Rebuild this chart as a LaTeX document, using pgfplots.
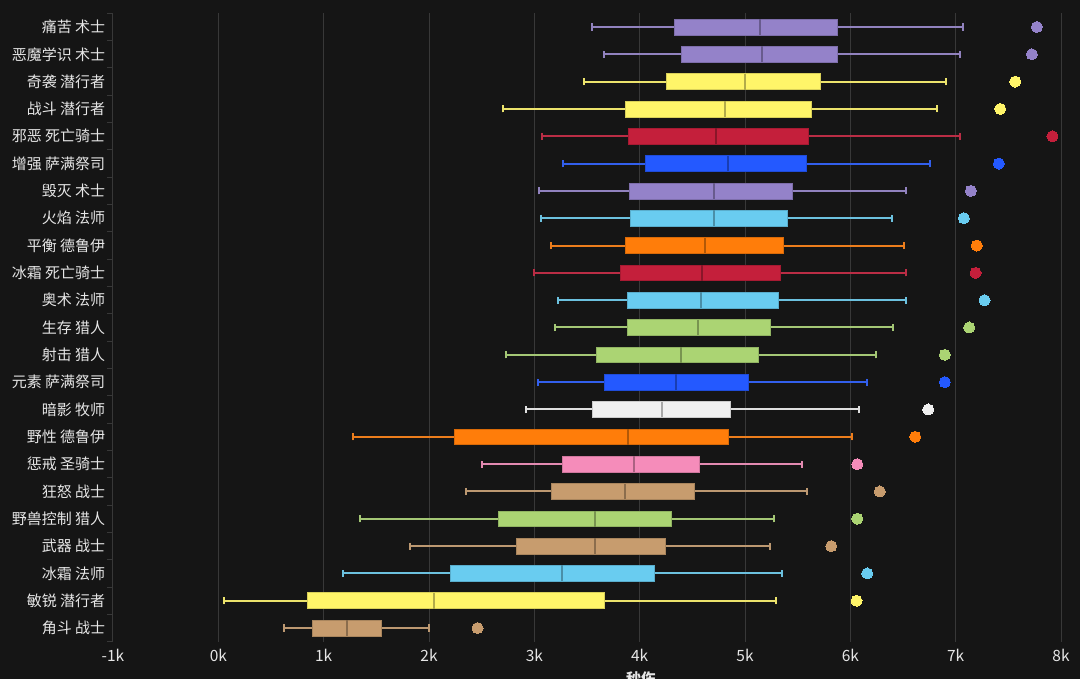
\documentclass[border=0pt]{standalone}
\usepackage{pgfplots}
\pgfplotsset{compat=1.18}
\usepgfplotslibrary{statistics}
\usepackage{fontspec}
\setmainfont{Noto Sans CJK SC}

\definecolor{bg}{HTML}{151515}
\definecolor{gridc}{HTML}{383838}
\definecolor{txt}{HTML}{E6E6E6}
\definecolor{wlk}{HTML}{9482C9}
\definecolor{rog}{HTML}{FFF569}
\definecolor{dk}{HTML}{C41F3B}
\definecolor{sha}{HTML}{2459FF}
\definecolor{mag}{HTML}{69CCF0}
\definecolor{dru}{HTML}{FF7D0A}
\definecolor{hun}{HTML}{ABD473}
\definecolor{pri}{HTML}{F0F0F0}
\definecolor{pal}{HTML}{F58CBA}
\definecolor{war}{HTML}{C79C6E}

\pgfplotsset{
  bx/.style={
    fill=#1, draw=#1!85!black, line width=0.6pt,
    mark=*, mark size=5.5pt, mark options={fill=#1, draw=#1, line width=0pt},
    boxplot/box extend=0.58, boxplot/whisker extend=0.26,
    boxplot/every box/.style={fill=#1, draw=#1!85!black, line width=0.6pt},
    boxplot/every whisker/.style={draw=#1!85!gray, line width=2pt},
    boxplot/every median/.style={draw=#1!70!black, line width=2pt},
  },
}

\begin{document}
\begin{tikzpicture}
\useasboundingbox (0,0) rectangle (1080pt,679pt);
\fill[bg] (0,0) rectangle (1080pt,679pt);
\begin{axis}[
  at={(113pt,37.3pt)}, anchor=south west,
  scale only axis, width=948pt, height=628.4pt,
  xmin=-1000, xmax=8000, ymin=-0.5, ymax=22.5,
  axis x line*=bottom, axis y line*=left,
  x axis line style={draw=none},
  y axis line style={draw=gridc, line width=1pt},
  xtick={-1000,0,1000,2000,3000,4000,5000,6000,7000,8000},
  xticklabels={-1k,0k,1k,2k,3k,4k,5k,6k,7k,8k},
  xmajorgrids, grid style={draw=gridc, line width=1pt},
  major x tick style={draw=none},
  ytick={0,...,22},
  yticklabels={角斗 战士,敏锐 潜行者,冰霜 法师,武器 战士,野兽控制 猎人,狂怒 战士,惩戒 圣骑士,野性 德鲁伊,暗影 牧师,元素 萨满祭司,射击 猎人,生存 猎人,奥术 法师,冰霜 死亡骑士,平衡 德鲁伊,火焰 法师,毁灭 术士,增强 萨满祭司,邪恶 死亡骑士,战斗 潜行者,奇袭 潜行者,恶魔学识 术士,痛苦 术士},
  major y tick style={draw=none},
  minor ytick={-0.5,0.5,...,22.5},
  minor y tick style={draw=gridc, line width=1pt},
  minor tick length=6pt, tick align=outside,
  yticklabel style={font=\fontsize{15}{16}\selectfont, text=txt},
  xticklabel style={font=\fontsize{15.5}{16}\selectfont, text=txt},
  /pgf/number format/assume math mode=true,
  clip=false,
]
\addplot[bx=wlk, boxplot prepared={draw position=22, lower whisker=3547, lower quartile=4331, median=5138, upper quartile=5879, upper whisker=7065}] coordinates {(0,7771)};
\addplot[bx=wlk, boxplot prepared={draw position=21, lower whisker=3661, lower quartile=4395, median=5161, upper quartile=5879, upper whisker=7037}] coordinates {(0,7724)};
\addplot[bx=rog, boxplot prepared={draw position=20, lower whisker=3468, lower quartile=4256, median=4996, upper quartile=5714, upper whisker=6910}] coordinates {(0,7565)};
\addplot[bx=rog, boxplot prepared={draw position=19, lower whisker=2702, lower quartile=3863, median=4806, upper quartile=5626, upper whisker=6825}] coordinates {(0,7423)};
\addplot[bx=dk, boxplot prepared={draw position=18, lower whisker=3075, lower quartile=3889, median=4727, upper quartile=5603, upper whisker=7037}] coordinates {(0,7919)};
\addplot[bx=sha, boxplot prepared={draw position=17, lower whisker=3268, lower quartile=4053, median=4835, upper quartile=5578, upper whisker=6753}] coordinates {(0,7410)};
\addplot[bx=wlk, boxplot prepared={draw position=16, lower whisker=3040, lower quartile=3901, median=4708, upper quartile=5448, upper whisker=6525}] coordinates {(0,7144)};
\addplot[bx=mag, boxplot prepared={draw position=15, lower whisker=3066, lower quartile=3914, median=4708, upper quartile=5398, upper whisker=6395}] coordinates {(0,7078)};
\addplot[bx=dru, boxplot prepared={draw position=14, lower whisker=3154, lower quartile=3866, median=4620, upper quartile=5360, upper whisker=6509}] coordinates {(0,7201)};
\addplot[bx=dk, boxplot prepared={draw position=13, lower whisker=2993, lower quartile=3816, median=4591, upper quartile=5337, upper whisker=6525}] coordinates {(0,7189)};
\addplot[bx=mag, boxplot prepared={draw position=12, lower whisker=3221, lower quartile=3879, median=4578, upper quartile=5312, upper whisker=6525}] coordinates {(0,7274)};
\addplot[bx=hun, boxplot prepared={draw position=11, lower whisker=3193, lower quartile=3879, median=4553, upper quartile=5237, upper whisker=6407}] coordinates {(0,7128)};
\addplot[bx=hun, boxplot prepared={draw position=10, lower whisker=2727, lower quartile=3588, median=4392, upper quartile=5123, upper whisker=6243}] coordinates {(0,6897)};
\addplot[bx=sha, boxplot prepared={draw position=9, lower whisker=3031, lower quartile=3664, median=4341, upper quartile=5034, upper whisker=6157}] coordinates {(0,6897)};
\addplot[bx=pri, boxplot prepared={draw position=8, lower whisker=2917, lower quartile=3550, median=4214, upper quartile=4860, upper whisker=6081}] coordinates {(0,6739)};
\addplot[bx=dru, boxplot prepared={draw position=7, lower whisker=1281, lower quartile=2240, median=3889, upper quartile=4844, upper whisker=6018}] coordinates {(0,6616)};
\addplot[bx=pal, boxplot prepared={draw position=6, lower whisker=2503, lower quartile=3262, median=3945, upper quartile=4566, upper whisker=5537}] coordinates {(0,6066)};
\addplot[bx=war, boxplot prepared={draw position=5, lower whisker=2354, lower quartile=3158, median=3863, upper quartile=4515, upper whisker=5591}] coordinates {(0,6280)};
\addplot[bx=hun, boxplot prepared={draw position=4, lower whisker=1348, lower quartile=2655, median=3579, upper quartile=4303, upper whisker=5275}] coordinates {(0,6066)};
\addplot[bx=war, boxplot prepared={draw position=3, lower whisker=1822, lower quartile=2832, median=3579, upper quartile=4240, upper whisker=5237}] coordinates {(0,5819)};
\addplot[bx=mag, boxplot prepared={draw position=2, lower whisker=1188, lower quartile=2202, median=3259, upper quartile=4139, upper whisker=5351}] coordinates {(0,6160)};
\addplot[bx=rog, boxplot prepared={draw position=1, lower whisker=57, lower quartile=848, median=2044, upper quartile=3661, upper whisker=5297}] coordinates {(0,6059)};
\addplot[bx=war, boxplot prepared={draw position=0, lower whisker=623, lower quartile=889, median=1222, upper quartile=1544, upper whisker=2000}] coordinates {(0,2461)};
\end{axis}
\node[font=\fontsize{15}{16}\selectfont\bfseries, text=txt] at (641pt,0pt) {秒伤};
\end{tikzpicture}
\end{document}
